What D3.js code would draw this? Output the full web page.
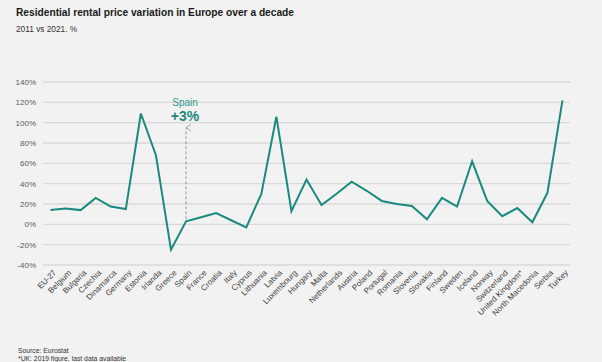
<!DOCTYPE html>
<html><head><meta charset="utf-8">
<script src="https://cdn.jsdelivr.net/npm/d3@7"></script>
<style>
html,body{margin:0;padding:0;background:#f2f2f2;}
svg{display:block;font-family:Arial,"Liberation Sans",sans-serif;}
</style></head>
<body>
<svg id="chart" width="602" height="362"></svg>
<script>
const categories = ["EU-27","Belgium","Bulgaria","Czechia","Dinamarca","Germany","Estonia","Irlanda","Greece","Spain","France","Croatia","Italy","Cyprus","Lithuania","Latvia","Luxembourg","Hungary","Malta","Netherlands","Austria","Poland","Portugal","Romania","Slovenia","Slovakia","Finland","Sweden","Iceland","Norway","Switzerland","United Kingdom*","North Macedonia","Serbia","Turkey"];
const values = [14,15.5,14,26,17.5,15,109,68,-25,3,7,11,4,-3,30,106,13,44,19,30,42,33,23,20,18,5,26,17.5,62,23,8,16,2,31,122];
const yTicks = [-40,-20,0,20,40,60,80,100,120,140];
const annotation = {category:"Spain", label:"Spain", value:"+3%"};

const svg = d3.select("#chart");
const W = 602, H = 362;
svg.append("rect").attr("width",W).attr("height",H).attr("fill","#f2f2f2");

const m = {left:43, right:32, top:82, bottom:97};
const x = d3.scalePoint().domain(categories).range([m.left, W-m.right]).padding(0.5);
const y = d3.scaleLinear().domain([-40,140]).range([H-m.bottom, m.top]);

// gridlines
svg.append("g").selectAll("line").data(yTicks).join("line")
  .attr("x1",m.left).attr("x2",W-m.right)
  .attr("y1",d=>y(d)).attr("y2",d=>y(d))
  .attr("stroke","#d9d9d9").attr("stroke-width",1.3);

// y axis labels
const yAxis = d3.axisLeft(y).tickValues(yTicks).tickFormat(d=>d+"%").tickSize(0).tickPadding(7);
const gy = svg.append("g").attr("transform",`translate(${m.left},0)`).call(yAxis);
gy.select(".domain").remove();
gy.selectAll("text").attr("font-size",8).attr("fill","#595959").attr("font-family","Arial,'Liberation Sans',sans-serif");

// x axis labels
const xAxis = d3.axisBottom(x).tickSize(0).tickPadding(0);
const gx = svg.append("g").attr("transform",`translate(0,${y(-40)+6})`).call(xAxis);
gx.select(".domain").remove();
gx.selectAll("text")
  .attr("font-size",8).attr("fill","#404040").attr("font-family","Arial,'Liberation Sans',sans-serif")
  .attr("text-anchor","end").attr("dy","0.7em").attr("dx","0.3em")
  .attr("transform","rotate(-45)");

// line
const line = d3.line().x((d,i)=>x(categories[i])).y(d=>y(d));
svg.append("path").datum(values).attr("d",line)
  .attr("fill","none").attr("stroke","#1a8a80").attr("stroke-width",2).attr("stroke-linejoin","miter");

// annotation
const ax = x(annotation.category);
const ai = categories.indexOf(annotation.category);
const defs = svg.append("defs");
defs.append("marker").attr("id","arr").attr("viewBox","0 0 10 10").attr("refX",5).attr("refY",1)
  .attr("markerWidth",8).attr("markerHeight",8).attr("orient","auto-start-reverse")
  .append("path").attr("d","M1,7 L5,1 L9,7").attr("fill","none").attr("stroke","#999").attr("stroke-width",1.2);
svg.append("line").attr("x1",ax).attr("x2",ax).attr("y1",y(values[ai])-2).attr("y2",y(100)+5)
  .attr("stroke","#999").attr("stroke-width",1).attr("stroke-dasharray","3,2")
  .attr("marker-end","url(#arr)");
svg.append("text").attr("x",ax-1).attr("y",y(120)+4).attr("text-anchor","middle")
  .attr("font-size",10).attr("fill","#2a9a8e").text(annotation.label);
svg.append("text").attr("x",ax-1).attr("y",y(100)-2).attr("text-anchor","middle")
  .attr("font-size",14).attr("font-weight","bold").attr("fill","#1a8a80").text(annotation.value);

// titles
svg.append("text").attr("x",16).attr("y",16).attr("font-size",10.2).attr("font-weight","bold").attr("fill","#1a1a1a")
  .text("Residential rental price variation in Europe over a decade");
svg.append("text").attr("x",16).attr("y",32).attr("font-size",8.3).attr("fill","#333")
  .text("2011 vs 2021. %");

// footer
svg.append("text").attr("x",18).attr("y",353).attr("font-size",6.8).attr("fill","#333").text("Source: Eurostat");
svg.append("text").attr("x",18).attr("y",360.5).attr("font-size",6.8).attr("fill","#333").text("*UK: 2019 figure, last data available");
</script>
</body></html>
